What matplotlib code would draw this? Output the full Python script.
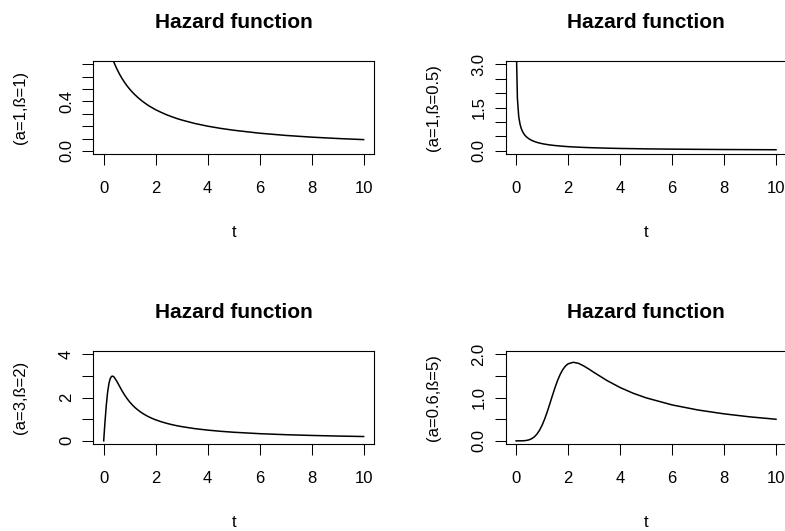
#!/usr/bin/env python3

import numpy as np
import matplotlib
matplotlib.use("Agg")
import matplotlib.pyplot as plt

plt.rcParams['font.family'] = ['Liberation Sans', 'DejaVu Sans']

# time grid (denser near 0 where the curves change fast)
t = [0, 0.01, 0.02, 0.05, 0.1, 0.15, 0.2, 0.25, 0.3, 0.35, 0.4, 0.5, 0.6, 0.7,
     0.8, 0.9, 1.0, 1.1, 1.2, 1.3, 1.4, 1.5, 1.6, 1.7, 1.8, 1.9, 2.0, 2.2, 2.4,
     2.6, 2.8, 3.0, 3.5, 4, 4.5, 5, 6, 7, 8, 9, 10]

# hazard values
h_a1_b1 = [1.0, 0.990, 0.980, 0.952, 0.909, 0.870, 0.833, 0.800, 0.769, 0.741,
           0.714, 0.667, 0.625, 0.588, 0.556, 0.526, 0.500, 0.476, 0.455, 0.435,
           0.417, 0.400, 0.385, 0.370, 0.357, 0.345, 0.333, 0.313, 0.294, 0.278,
           0.263, 0.250, 0.222, 0.200, 0.182, 0.167, 0.143, 0.125, 0.111, 0.100,
           0.091]
h_a1_b05 = [np.nan, 4.545, 3.098, 1.827, 1.201, 0.931, 0.773, 0.667, 0.590,
            0.531, 0.484, 0.414, 0.364, 0.325, 0.295, 0.271, 0.250, 0.233,
            0.218, 0.205, 0.194, 0.184, 0.175, 0.167, 0.159, 0.153, 0.146,
            0.136, 0.127, 0.119, 0.112, 0.106, 0.093, 0.083, 0.076, 0.069,
            0.059, 0.052, 0.046, 0.042, 0.038]
h_a3_b2 = [0.0, 0.180, 0.359, 0.880, 1.651, 2.245, 2.647, 2.880, 2.983, 2.996,
           2.951, 2.769, 2.547, 2.329, 2.130, 1.954, 1.800, 1.665, 1.547, 1.444,
           1.352, 1.271, 1.198, 1.133, 1.074, 1.021, 0.973, 0.889, 0.818, 0.757,
           0.704, 0.659, 0.566, 0.497, 0.442, 0.398, 0.332, 0.285, 0.250, 0.222,
           0.200]
h_a06_b5 = [0.0, 0.0, 0.0, 0.0, 0.0, 0.0002, 0.0006, 0.0015, 0.003, 0.006,
            0.010, 0.024, 0.050, 0.092, 0.155, 0.244, 0.361, 0.506, 0.676,
            0.862, 1.053, 1.238, 1.404, 1.543, 1.653, 1.732, 1.783, 1.819,
            1.794, 1.735, 1.662, 1.583, 1.395, 1.235, 1.103, 0.996, 0.832,
            0.714, 0.625, 0.555, 0.500]

ylabels = ["(a=1,ß=1)", "(a=1,ß=0.5)", "(a=3,ß=2)", "(a=0.6,ß=5)"]
yticks = [[0, 0.1, 0.2, 0.3, 0.4, 0.5, 0.6, 0.7],
          [0, 0.5, 1.0, 1.5, 2.0, 2.5, 3.0],
          [0, 1, 2, 3, 4],
          [0, 0.5, 1.0, 1.5, 2.0]]
ytick_text = [["0.0", "", "", "", "0.4", "", "", ""],
              ["0.0", "", "", "1.5", "", "", "3.0"],
              ["0", "", "2", "", "4"],
              ["0.0", "", "1.0", "", "2.0"]]
xticks = [0, 2, 4, 6, 8, 10]
series = [h_a1_b1, h_a1_b05, h_a3_b2, h_a06_b5]


def main():
    W, H = 785, 531
    fig = plt.figure(figsize=(W / 100, H / 100), dpi=100)

    # plot boxes in pixels: left, top
    boxes = [(93.3, 61), (505.7, 61), (93.3, 351), (505.7, 351)]
    bw, bh = 280.7, 93.3

    for i, (bx, by) in enumerate(boxes):
        ax = fig.add_axes([bx / W, 1 - (by + bh) / H, bw / W, bh / H])
        ax.plot(t, series[i], color='black', lw=1.1)
        ax.set_xlim(-0.4, 10.4)
        top = yticks[i][-1]
        ax.set_ylim(-0.04 * top, 1.04 * top)
        ax.set_xticks(xticks)
        ax.set_xticklabels([str(v) for v in xticks])
        ax.set_yticks(yticks[i])
        ax.set_yticklabels(ytick_text[i], rotation=90, va='center')
        ax.tick_params(direction='out', length=7.9, width=0.75,
                       labelsize=12, color='black')
        ax.tick_params(axis='x', pad=11)
        ax.tick_params(axis='y', pad=6)
        for s in ax.spines.values():
            s.set_linewidth(0.8)
            s.set_color('black')

        cx = (bx + bw / 2) / W
        fig.text(cx, 1 - (by - 33.3) / H, "Hazard function",
                 ha='center', va='baseline', fontsize=15, fontweight='bold')
        fig.text(cx, 1 - (by + 176.3) / H, "t",
                 ha='center', va='baseline', fontsize=12)
        fig.text((bx - 72.3) / W, 1 - (by + bh / 2) / H, ylabels[i],
                 rotation=90, ha='center', va='center', fontsize=12)

    fig.savefig("out.png", dpi=100)


if __name__ == "__main__":
    main()
